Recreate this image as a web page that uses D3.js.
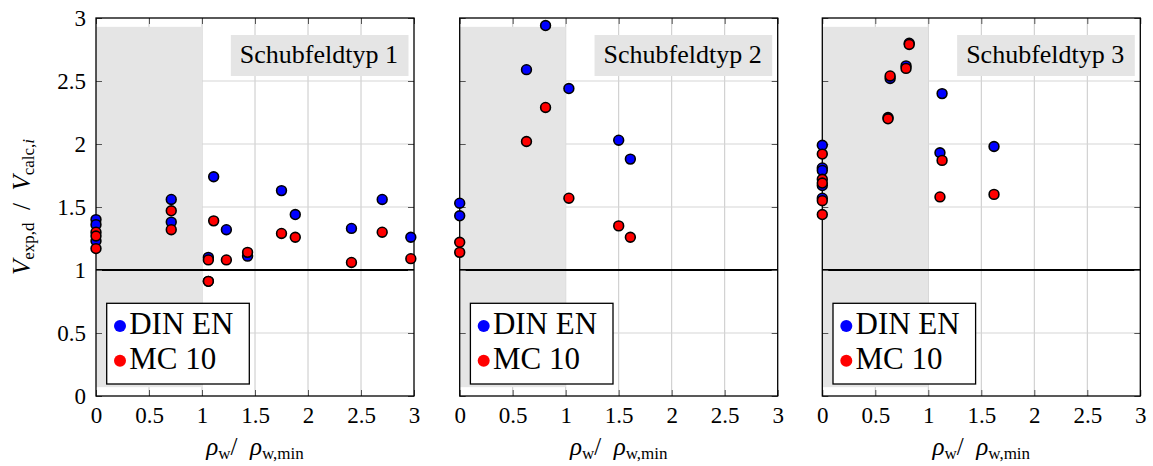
<!DOCTYPE html>
<html>
<head>
<meta charset="utf-8">
<script src="https://cdn.jsdelivr.net/npm/d3@7"></script>
<style>
  body { margin: 0; background: #fff; }
  svg { display: block; font-family: "Liberation Serif", "DejaVu Serif", serif; }
</style>
</head>
<body>
<svg id="chart" width="1153" height="466"></svg>
<script>
// data
var panelTitles = ['Schubfeldtyp 1', 'Schubfeldtyp 2', 'Schubfeldtyp 3'];
var seriesNames = ['DIN EN', 'MC 10'];
var xTicks = [0, 0.5, 1, 1.5, 2, 2.5, 3];
var yTicks = [0, 0.5, 1, 1.5, 2, 2.5, 3];
var shadeX = [0, 1];
var shadeY = [0.07, 2.93];
var refLine = 1;

// Schubfeldtyp 1
var rho1 = [0, 0, 0, 0.71, 0.71, 1.06, 1.06, 1.11, 1.23, 1.43, 1.75, 1.88, 2.41, 2.70, 2.97];
var din1 = [1.40, 1.36, 1.23, 1.56, 1.38, 1.10, 0.91, 1.74, 1.32, 1.11, 1.63, 1.44, 1.33, 1.56, 1.26];
var mc1  = [1.30, 1.27, 1.17, 1.47, 1.32, 1.08, 0.91, 1.39, 1.08, 1.14, 1.29, 1.26, 1.06, 1.30, 1.09];
// Schubfeldtyp 2
var rho2 = [0, 0, 0.63, 0.81, 1.03, 1.50, 1.61];
var din2 = [1.53, 1.43, 2.59, 2.94, 2.44, 2.03, 1.88];
var mc2  = [1.22, 1.14, 2.02, 2.29, 1.57, 1.35, 1.26];
// Schubfeldtyp 3
var rho3 = [0, 0, 0, 0, 0, 0.62, 0.64, 0.79, 0.82, 1.11, 1.13, 1.62];
var din3 = [1.99, 1.81, 1.79, 1.67, 1.57, 2.21, 2.52, 2.62, 2.80, 1.93, 2.40, 1.98];
var mc3  = [1.92, 1.72, 1.69, 1.55, 1.44, 2.20, 2.54, 2.60, 2.79, 1.58, 1.87, 1.60];

var colors = ['#0000ff', '#ff0000'];

var panels = [
  { title: panelTitles[0], rho: rho1, vals: [din1, mc1] },
  { title: panelTitles[1], rho: rho2, vals: [din2, mc2] },
  { title: panelTitles[2], rho: rho3, vals: [din3, mc3] }
];

var svg = d3.select('#chart');
var left = [96, 459.7, 822.3],
    pw = 318,
    plotTop = 18,
    plotBottom = 396;

var y = d3.scaleLinear().domain([0, 3]).range([plotBottom, plotTop]);

panels.forEach(function(p, k) {
  var x = d3.scaleLinear().domain([0, 3]).range([left[k], left[k] + pw]);
  var g = svg.append('g');

  // grid
  g.append('g').selectAll('line')
    .data(xTicks.slice(1, -1)).enter().append('line')
    .attr('x1', function(d) { return x(d); }).attr('x2', function(d) { return x(d); })
    .attr('y1', plotTop).attr('y2', plotBottom)
    .attr('stroke', '#c8c8c8').attr('stroke-width', 1);
  g.append('g').selectAll('line')
    .data(yTicks.slice(1, -1)).enter().append('line')
    .attr('x1', x(0)).attr('x2', x(3))
    .attr('y1', function(d) { return y(d); }).attr('y2', function(d) { return y(d); })
    .attr('stroke', '#d6d6d6').attr('stroke-width', 1.2);

  // shaded region
  g.append('rect')
    .attr('x', x(shadeX[0])).attr('y', y(shadeY[1]))
    .attr('width', x(shadeX[1]) - x(shadeX[0]))
    .attr('height', y(shadeY[0]) - y(shadeY[1]))
    .attr('fill', '#e5e5e5');

  // reference line
  g.append('line')
    .attr('x1', x(0)).attr('x2', x(3))
    .attr('y1', y(refLine)).attr('y2', y(refLine))
    .attr('stroke', '#000').attr('stroke-width', 2);

  // axes with inward ticks
  var bx = g.append('g').attr('transform', 'translate(0,' + plotBottom + ')')
    .call(d3.axisBottom(x).tickValues(xTicks).tickFormat(d3.format('~g'))
      .tickSizeInner(-6).tickSizeOuter(0).tickPadding(11));
  var tx = g.append('g').attr('transform', 'translate(0,' + plotTop + ')')
    .call(d3.axisTop(x).tickValues(xTicks).tickFormat('').tickSizeInner(-6).tickSizeOuter(0));
  var ly = g.append('g').attr('transform', 'translate(' + left[k] + ',0)')
    .call(d3.axisLeft(y).tickValues(yTicks).tickFormat(k === 0 ? d3.format('~g') : '')
      .tickSizeInner(-6).tickSizeOuter(0).tickPadding(10));
  var ry = g.append('g').attr('transform', 'translate(' + (left[k] + pw) + ',0)')
    .call(d3.axisRight(y).tickValues(yTicks).tickFormat('').tickSizeInner(-6).tickSizeOuter(0));
  [bx, tx, ly, ry].forEach(function(a) {
    a.select('.domain').remove();
    a.selectAll('.tick line').attr('stroke', '#555');
    a.selectAll('.tick text')
      .attr('font-family', '"Liberation Serif", serif')
      .attr('font-size', 23).attr('fill', '#000');
  });

  // frame
  g.append('rect')
    .attr('x', x(0)).attr('y', plotTop)
    .attr('width', pw).attr('height', plotBottom - plotTop)
    .attr('fill', 'none').attr('stroke', '#000').attr('stroke-width', 1.3);

  // points: DIN EN first, MC 10 on top
  p.vals.forEach(function(vals, s) {
    g.append('g').selectAll('circle')
      .data(vals).enter().append('circle')
      .attr('cx', function(d, i) { return x(p.rho[i]); })
      .attr('cy', function(d) { return y(d); })
      .attr('r', 4.9)
      .attr('fill', colors[s])
      .attr('stroke', '#000').attr('stroke-width', 1.6);
  });

  // title box
  var tt = g.append('text')
    .attr('x', x(3) - 16).attr('y', 63)
    .attr('text-anchor', 'end')
    .attr('font-size', 26)
    .text(p.title);
  var bb = tt.node().getBBox();
  g.insert('rect', function() { return tt.node(); })
    .attr('x', bb.x - 9).attr('y', 35)
    .attr('width', x(3) - 5.5 - (bb.x - 9)).attr('height', 41)
    .attr('fill', '#e5e5e5');

  // legend
  var lg = g.append('g').attr('transform', 'translate(' + (left[k] + 10.7) + ',303.3)');
  lg.append('rect').attr('width', 142.6).attr('height', 80.7)
    .attr('fill', '#fff').attr('stroke', '#000').attr('stroke-width', 1.3);
  seriesNames.forEach(function(name, s) {
    lg.append('circle').attr('cx', 13.3).attr('cy', 22.7 + s * 34.7).attr('r', 6)
      .attr('fill', colors[s]);
    lg.append('text').attr('x', 22.5).attr('y', 31 + s * 35)
      .attr('font-size', 31).text(name);
  });

  // x label
  var xl = g.append('text')
    .attr('x', x(1.5)).attr('y', 455)
    .attr('text-anchor', 'middle')
    .attr('font-size', 25);
  xl.append('tspan').attr('font-style', 'italic').text('ρ');
  xl.append('tspan').attr('font-size', 17).attr('dy', 4).text('w');
  xl.append('tspan').attr('dy', -4).text('/\u2002');
  xl.append('tspan').attr('font-style', 'italic').text('ρ');
  xl.append('tspan').attr('font-size', 17).attr('dy', 4).text('w,min');
});

// y label
var yl = svg.append('text')
  .attr('transform', 'translate(30,' + ((plotTop + plotBottom) / 2) + ') rotate(-90)')
  .attr('text-anchor', 'middle')
  .attr('font-size', 25);
yl.append('tspan').attr('font-style', 'italic').text('V');
yl.append('tspan').attr('font-size', 17).attr('dy', 4).text('exp,d');
yl.append('tspan').attr('dy', -4).text('\u00a0\u00a0/\u00a0\u00a0');
yl.append('tspan').attr('font-style', 'italic').text('V');
yl.append('tspan').attr('font-size', 17).attr('dy', 4).text('calc,');
yl.append('tspan').attr('font-size', 17).attr('font-style', 'italic').text('i');
</script>
</body>
</html>
